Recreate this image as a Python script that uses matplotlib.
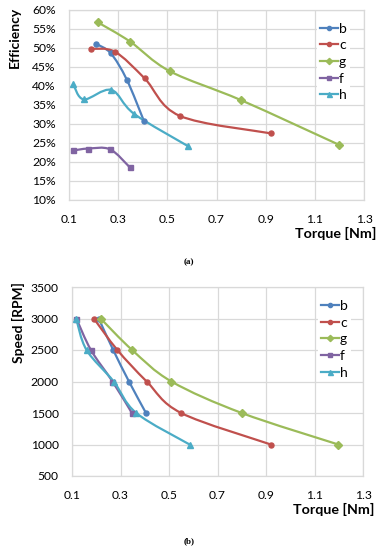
import matplotlib
matplotlib.use("Agg")
import matplotlib.pyplot as plt
from matplotlib.path import Path
from matplotlib.patches import PathPatch
from matplotlib.lines import Line2D
import numpy as np

plt.rcParams['font.family'] = ['Lato', 'DejaVu Sans']

# ---------------- data ----------------
series = ['b', 'c', 'g', 'f', 'h']
colors = {'b': '#4F81BD', 'c': '#C0504D', 'g': '#9BBB59', 'f': '#8064A2', 'h': '#4BACC6'}
markers = {'b': 'o', 'c': 'o', 'g': 'D', 'f': 's', 'h': '^'}
msizes = {'b': 3.6, 'c': 3.6, 'g': 3.8, 'f': 3.6, 'h': 4.2}

torque_b = [0.21, 0.27, 0.335, 0.405]
torque_c = [0.19, 0.287, 0.408, 0.55, 0.92]
torque_g = [0.218, 0.348, 0.51, 0.80, 1.198]
torque_f = [0.118, 0.178, 0.267, 0.347]
torque_h = [0.117, 0.16, 0.272, 0.365, 0.585]

eff_b = [51.0, 48.5, 41.6, 30.7]
eff_c = [49.7, 48.9, 41.9, 32.1, 27.5]
eff_g = [56.6, 51.6, 43.8, 36.2, 24.5]
eff_f = [23.0, 23.5, 23.3, 18.6]
eff_h = [40.4, 36.4, 38.9, 32.6, 24.1]

speed_b = [3000, 2500, 2000, 1500]
speed_c = [3000, 2500, 2000, 1500, 1000]
speed_g = [3000, 2500, 2000, 1500, 1000]
speed_f = [3000, 2500, 2000, 1500]
speed_h = [3000, 2500, 2000, 1500, 1000]

torque = {'b': torque_b, 'c': torque_c, 'g': torque_g, 'f': torque_f, 'h': torque_h}
eff = {'b': eff_b, 'c': eff_c, 'g': eff_g, 'f': eff_f, 'h': eff_h}
speed = {'b': speed_b, 'c': speed_c, 'g': speed_g, 'f': speed_f, 'h': speed_h}

x_ticks = [0.1, 0.3, 0.5, 0.7, 0.9, 1.1, 1.3]
x_ticklabels = ['0.1', '0.3', '0.5', '0.7', '0.9', '1.1', '1.3']
eff_ticks = [10, 15, 20, 25, 30, 35, 40, 45, 50, 55, 60]
eff_ticklabels = ['10%', '15%', '20%', '25%', '30%', '35%', '40%', '45%', '50%', '55%', '60%']
speed_ticks = [500, 1000, 1500, 2000, 2500, 3000, 3500]
speed_ticklabels = ['500', '1000', '1500', '2000', '2500', '3000', '3500']

GRID = '#D9D9D9'
TICKC = '#000000'


def smooth_path(xs, ys, sx, sy):
    # Excel-like smoothed line: cubic Bezier through the points (Catmull-Rom)
    P = np.column_stack([np.asarray(xs) / sx, np.asarray(ys) / sy])
    n = len(P)
    verts = [P[0]]
    codes = [Path.MOVETO]
    for i in range(n - 1):
        p0 = P[i - 1] if i > 0 else P[i]
        p1 = P[i]
        p2 = P[i + 1]
        p3 = P[i + 2] if i + 2 < n else P[i + 1]
        c1 = p1 + (p2 - p0) / 6.0
        c2 = p2 - (p3 - p1) / 6.0
        verts += [c1, c2, p2]
        codes += [Path.CURVE4] * 3
    V = np.array(verts)
    V[:, 0] *= sx
    V[:, 1] *= sy
    return Path(V, codes)


def make_axes(rect, yvals, yticks, yticklabels, ylim, sy):
    ax = fig.add_axes(rect)
    ax.set_xlim(0.1, 1.3)
    ax.set_ylim(*ylim)
    ax.set_xticks(x_ticks)
    ax.set_xticklabels(x_ticklabels)
    ax.set_yticks(yticks)
    ax.set_yticklabels(yticklabels)
    ax.grid(True, color=GRID, lw=0.9)
    ax.set_axisbelow(True)
    for s in ax.spines.values():
        s.set_color(GRID)
        s.set_linewidth(0.9)
    ax.tick_params(length=0, labelsize=8.7, colors=TICKC)
    ax.tick_params(axis='x', pad=10)
    ax.tick_params(axis='y', pad=9.5)
    handles = []
    for k in series:
        xs = torque[k]
        ys = yvals[k]
        path = smooth_path(xs, ys, 1.2, sy)
        ax.add_patch(PathPatch(path, fill=False, edgecolor=colors[k], lw=1.6,
                               zorder=3, capstyle='round', joinstyle='round'))
        ax.plot(xs, ys, ls='none', marker=markers[k], ms=msizes[k],
                color=colors[k], zorder=4)
        handles.append(Line2D([], [], color=colors[k], lw=1.6, marker=markers[k],
                              ms=msizes[k] - 0.6, label=k))
    return ax, handles


def add_legend(ax, handles, anchor):
    leg = ax.legend(handles=handles, loc='upper left', bbox_to_anchor=anchor,
                    frameon=True, fontsize=10, handlelength=1.3, handletextpad=0.1,
                    labelspacing=0.33, borderpad=0.2, borderaxespad=0)
    leg.get_frame().set_edgecolor('none')
    leg.get_frame().set_facecolor('white')
    leg.get_frame().set_alpha(1)
    return leg


fig = plt.figure(figsize=(3.81, 5.5), dpi=100)
W, H = 381.0, 550.0

# top plot (efficiency)
ax1, h1 = make_axes([69 / W, 1 - 200 / H, (364 - 69) / W, (200 - 9.5) / H],
                    eff, eff_ticks, eff_ticklabels, (10, 60), 50)
add_legend(ax1, h1, (0.84, 0.945))

# bottom plot (speed)
ax2, h2 = make_axes([72 / W, 1 - 476 / H, (363 - 72) / W, (476 - 287) / H],
                    speed, speed_ticks, speed_ticklabels, (500, 3500), 3000)
add_legend(ax2, h2, (0.845, 0.945))

# axis titles
fig.text(15 / W, 1 - 7 / H, 'Efficiency', rotation=90, ha='center', va='top',
         fontsize=10, fontweight='bold')
fig.text(376 / W, 1 - 233 / H, 'Torque [Nm]', ha='right', va='center',
         fontsize=10.3, fontweight='bold')
fig.text(18 / W, 1 - 282 / H, 'Speed [RPM]', rotation=90, ha='center', va='top',
         fontsize=10, fontweight='bold')
fig.text(374 / W, 1 - 509 / H, 'Torque [Nm]', ha='right', va='center',
         fontsize=10.3, fontweight='bold')

# sub-captions
fig.text(189 / W, 1 - 262 / H, '(a)', ha='center', va='center', fontsize=6.5,
         family='Liberation Serif', fontweight='bold')
fig.text(189 / W, 1 - 541 / H, '(b)', ha='center', va='center', fontsize=6.5,
         family='Liberation Serif', fontweight='bold')

fig.savefig('out.png', dpi=100)
